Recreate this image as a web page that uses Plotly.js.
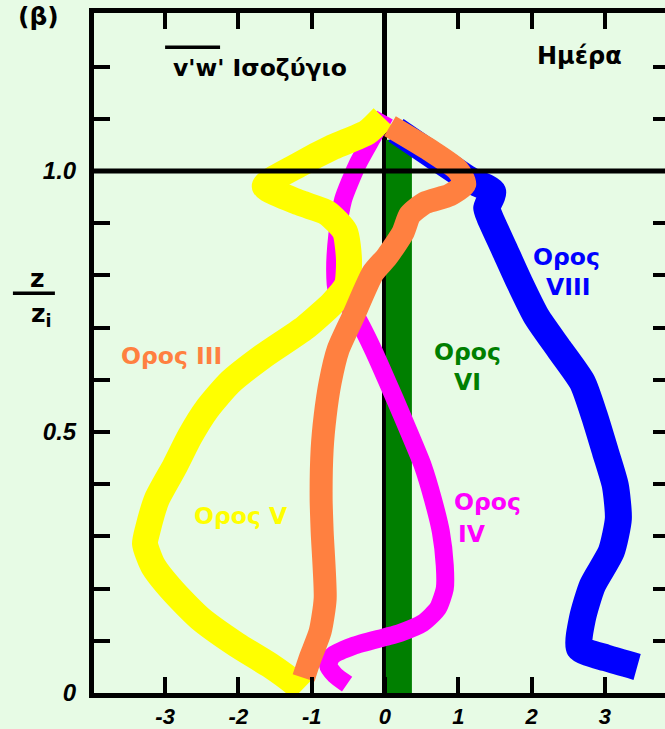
<!DOCTYPE html>
<html>
<head>
<meta charset="utf-8">
<script src="https://cdn.plot.ly/plotly-3.0.1.min.js"></script>
<style>
html,body{margin:0;padding:0;overflow:hidden;background:#E7FBE5;}
#chart{width:669px;height:729px;}
</style>
</head>
<body>
<div id="chart"></div>
<script>
// ---- data ----
const xTickVals = [-3, -2, -1, 0, 1, 2, 3];
const xTickText = ["-3", "-2", "-1", "0", "1", "2", "3"];
const yTickVals = [0, 0.1, 0.2, 0.3, 0.4, 0.5, 0.6, 0.7, 0.8, 0.9, 1.0, 1.1, 1.2];
const yTickText = ["0", " ", " ", " ", " ", "0.5", " ", " ", " ", " ", "1.0", " ", " "];

// Ορος VI (green)
const vi_x = [0.19, 0.19];
const vi_y = [0.0, 1.06];

// Ορος VIII (blue)
const viii_x = [0.150, 0.748, 1.156, 1.469, 1.388, 1.429, 1.633, 1.837, 2.068, 2.381, 2.694, 2.857, 3.007, 3.143, 3.184, 3.088, 2.830, 2.694, 2.653, 3.020, 3.440];
const viii_y = [1.078, 1.021, 0.983, 0.960, 0.929, 0.912, 0.849, 0.786, 0.721, 0.658, 0.595, 0.531, 0.462, 0.397, 0.334, 0.271, 0.206, 0.143, 0.086, 0.067, 0.050];

// Ορος IV (magenta)
const iv_x = [0.000, -0.177, -0.381, -0.571, -0.650, -0.680, -0.660, -0.408, -0.163, 0.136, 0.327, 0.517, 0.653, 0.762, 0.816, 0.816, 0.721, 0.517, 0.204, 0.000, -0.435, -0.721, -0.776, -0.680, -0.517];
const iv_y = [1.107, 1.063, 1.011, 0.945, 0.878, 0.811, 0.773, 0.725, 0.658, 0.563, 0.500, 0.435, 0.372, 0.309, 0.244, 0.200, 0.162, 0.134, 0.115, 0.107, 0.090, 0.071, 0.053, 0.034, 0.017];

// Ορος V (yellow)
const v_x = [-0.027, -0.245, -0.709, -1.160, -1.640, -1.160, -0.791, -0.546, -0.491, -0.518, -0.709, -1.091, -1.664, -2.115, -2.428, -2.660, -2.865, -3.110, -3.233, -3.274, -3.165, -2.892, -2.524, -2.019, -1.569, -1.201, -1.132];
const v_y = [1.103, 1.074, 1.046, 1.013, 0.971, 0.939, 0.920, 0.884, 0.830, 0.782, 0.748, 0.700, 0.645, 0.595, 0.544, 0.492, 0.435, 0.372, 0.315, 0.286, 0.244, 0.195, 0.143, 0.092, 0.053, 0.015, 0.006];

// Ορος III (orange)
const iii_x = [0.068, 0.612, 0.993, 1.088, 0.884, 0.544, 0.340, 0.245, 0.027, -0.163, -0.435, -0.639, -0.748, -0.816, -0.857, -0.871, -0.857, -0.816, -0.884, -1.020, -1.110];
const iii_y = [1.086, 1.040, 1.002, 0.975, 0.954, 0.939, 0.916, 0.882, 0.836, 0.805, 0.721, 0.658, 0.595, 0.531, 0.468, 0.372, 0.309, 0.181, 0.118, 0.067, 0.029];

// ---- styling ----
const BG = '#E7FBE5';
const C_GREEN = '#007F00', C_BLUE = '#0000FF', C_MAG = '#FF00FF', C_YEL = '#FFFF00', C_ORA = '#FF8040';

function trace(x, y, color, width, shape) {
  return {x: x, y: y, type: 'scatter', mode: 'lines', hoverinfo: 'skip',
    line: {color: color, width: width, shape: shape || 'spline', smoothing: 0.6}};
}

const data = [
  trace(vi_x, vi_y, C_GREEN, 26, 'linear'),
  trace(viii_x, viii_y, C_BLUE, 27),
  trace(iv_x, iv_y, C_MAG, 18),
  trace(v_x, v_y, C_YEL, 26),
  trace(iii_x, iii_y, C_ORA, 23)
];

const xTickFont = {family: 'Liberation Sans, Arial, sans-serif', size: 22, color: 'black', weight: 'bold', style: 'italic'};
const yTickFont = {family: 'Liberation Sans, Arial, sans-serif', size: 24, color: 'black', weight: 'bold', style: 'italic'};
const lblFont = (c, s) => ({family: 'DejaVu Sans, Verdana, sans-serif', size: s || 23, color: c, weight: 'bold'});

function ann(text, x, y, color, size, xref, yref) {
  return {text: text, x: x, y: y, xref: xref || 'x', yref: yref || 'y', showarrow: false,
    xanchor: 'center', yanchor: 'middle', font: lblFont(color, size)};
}

const layout = {
  width: 669, height: 729,
  margin: {l: 94, r: 0, t: 13, b: 36, pad: 0},
  paper_bgcolor: BG, plot_bgcolor: BG,
  showlegend: false,
  xaxis: {
    range: [-3.97, 3.875], showline: true, mirror: 'ticks', linecolor: 'black', linewidth: 5,
    ticks: 'inside', ticklen: 16, tickwidth: 4, tickcolor: 'black',
    tickvals: xTickVals, ticktext: xTickText, tickfont: xTickFont, ticklabelstandoff: 0,
    zeroline: true, zerolinecolor: 'black', zerolinewidth: 5,
    showgrid: false, layer: 'above traces', fixedrange: true
  },
  yaxis: {
    range: [0, 1.3027], showline: true, mirror: 'ticks', linecolor: 'black', linewidth: 5,
    ticks: 'inside', ticklen: 16, tickwidth: 4, tickcolor: 'black',
    tickvals: yTickVals, ticktext: yTickText, tickfont: yTickFont, ticklabelstandoff: 8,
    zeroline: false, showgrid: false, layer: 'above traces', fixedrange: true
  },
  shapes: [
    {type: 'line', xref: 'paper', yref: 'y', x0: 0, x1: 1, y0: 1.0, y1: 1.0,
      line: {color: 'black', width: 5}, layer: 'above'},
    {type: 'line', xref: 'x', yref: 'y', x0: -3.0, x1: -2.25, y0: 1.237, y1: 1.237,
      line: {color: 'black', width: 3.5}, layer: 'above'},
    {type: 'line', xref: 'paper', yref: 'paper', x0: -0.141, x1: -0.068, y0: 0.588, y1: 0.588,
      line: {color: 'black', width: 3.5}}
  ],
  annotations: [
    ann("v'w' Ισοζύγιο", -1.700, 1.197, 'black', 23.5),
    ann('Ημέρα', 2.66, 1.221, 'black', 24),
    ann('Ορος III', -2.906, 0.645, C_ORA, 23.5),
    ann('Ορος V', -1.965, 0.340, C_YEL, 23.5),
    ann('Ορος', 1.119, 0.653, C_GREEN, 23.5),
    ann('VI', 1.119, 0.595, C_GREEN, 23.5),
    ann('Ορος', 1.392, 0.366, C_MAG, 23.5),
    ann('IV', 1.187, 0.305, C_MAG, 23.5),
    ann('Ορος', 2.483, 0.836, C_BLUE, 23.5),
    ann('VIII', 2.497, 0.777, C_BLUE, 23.5),
    ann('(β)', -0.097, 0.995, 'black', 25, 'paper', 'paper'),
    ann('z', -0.099, 0.609, 'black', 25, 'paper', 'paper'),
    ann('z<sub>i</sub>', -0.092, 0.556, 'black', 25, 'paper', 'paper')
  ]
};

Plotly.newPlot('chart', data, layout, {staticPlot: true, displayModeBar: false});
</script>
</body>
</html>
